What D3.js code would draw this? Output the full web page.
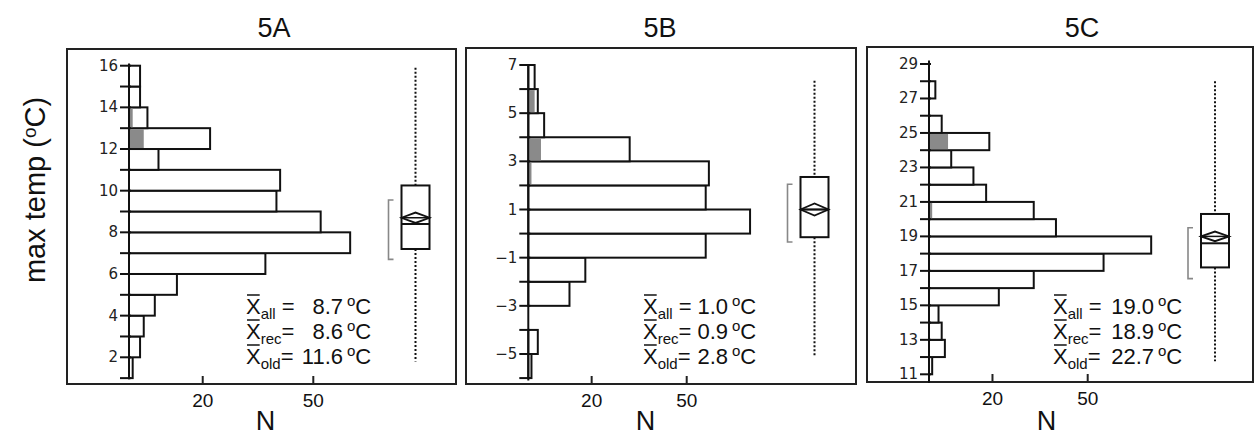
<!DOCTYPE html>
<html>
<head>
<meta charset="utf-8">
<script src="https://cdn.jsdelivr.net/npm/d3@7"></script>
<style>
  body { margin: 0; background: #fff; }
  svg { display: block; }
  text { font-family: "Liberation Sans", Arial, sans-serif; fill: #111; }
  .tick-lab { font-family: "DejaVu Sans", sans-serif; font-size: 15px; fill: #222; }
</style>
</head>
<body>
<div id="chart"></div>
<script>
// ---- data ----
var panelNames = ["5A", "5B", "5C"];

// lower edge of each 1-degree bin
var binsA = [1, 2, 3, 4, 5, 6, 7, 8, 9, 10, 11, 12, 13, 14, 15];
var countsA = [1, 3, 4, 7, 13, 37, 60, 52, 40, 41, 8, 22, 5, 3, 3];
var oldA = [0, 0, 0, 0, 0, 0, 0, 0, 0, 0, 0, 4, 1, 0, 0];

var binsB = [-6, -5, -4, -3, -2, -1, 0, 1, 2, 3, 4, 5, 6];
var countsB = [1, 3, 0, 13, 18, 56, 70, 56, 57, 32, 5, 3, 2];
var oldB = [0, 0, 0, 0, 0, 0, 0, 0, 1, 4, 0, 2, 0];

var binsC = [11, 12, 13, 14, 15, 16, 17, 18, 19, 20, 21, 22, 23, 24, 25, 26, 27];
var countsC = [1, 5, 4, 3, 22, 33, 55, 70, 40, 33, 18, 14, 7, 19, 4, 0, 2];
var oldC = [0, 0, 0, 0, 0, 0, 0, 0, 0, 1, 0, 0, 0, 6, 0, 0, 0];

// box plot summaries: [lowWhisker, q1, median, q3, highWhisker]
var boxA = [1.8, 7.2, 8.4, 10.25, 15.9];
var boxB = [-5.1, -0.15, 1.0, 2.35, 6.35];
var boxC = [11.75, 17.2, 18.6, 20.3, 28.0];
// mean and 95% interval half width (diamond)
var meanA = [8.7, 0.25], meanB = [1.0, 0.25], meanC = [19.0, 0.28];
// shortest half bracket
var shortA = [6.7, 9.55], shortB = [-0.35, 2.05], shortC = [16.55, 19.5];

var yTicksA = [2, 4, 6, 8, 10, 12, 14, 16];
var yTicksB = [-5, -3, -1, 1, 3, 5, 7];
var yTicksC = [11, 13, 15, 17, 19, 21, 23, 25, 27, 29];
var xTicks = [20, 50];

var statSubs = ["all", "rec", "old"];
var statsA = ["8.7", "8.6", "11.6"];
var statsB = ["1.0", "0.9", "2.8"];
var statsC = ["19.0", "18.9", "22.7"];

// ---- layout ----
var W = 1254, H = 435;
var panels = [
  { name: panelNames[0], bins: binsA, counts: countsA, old: oldA, box: boxA, mean: meanA, shortest: shortA,
    ticks: yTicksA, stats: statsA,
    fx: 67, fy: 49, fw: 389, fh: 335, axisX: 129, x50: 313.3,
    yDom: [2, 16], yRng: [357.3, 65.7], axisExt: [0.95, 16.1],
    boxX: 415.5, statX: 246, numEnd: 97, titleX: 274 },
  { name: panelNames[1], bins: binsB, counts: countsB, old: oldB, box: boxB, mean: meanB, shortest: shortB,
    ticks: yTicksB, stats: statsB,
    fx: 466, fy: 48, fw: 390, fh: 336, axisX: 528.3, x50: 686.7,
    yDom: [-5, 7], yRng: [354, 65], axisExt: [-6.1, 7],
    boxX: 814.5, statX: 643, numEnd: 85, titleX: 660 },
  { name: panelNames[2], bins: binsC, counts: countsC, old: oldC, box: boxC, mean: meanC, shortest: shortC,
    ticks: yTicksC, stats: statsC,
    fx: 867, fy: 47, fw: 386, fh: 335, axisX: 929, x50: 1087.7,
    yDom: [11, 29], yRng: [374.3, 64], axisExt: [10.5, 29.2],
    boxX: 1215, statX: 1053, numEnd: 101, titleX: 1082 }
];

var svg = d3.select("#chart").append("svg")
    .attr("width", W)
    .attr("height", H);

// y label
var yl = svg.append("text")
    .attr("transform", "translate(45,190) rotate(-90)")
    .attr("text-anchor", "middle")
    .style("font-size", "29px");
yl.append("tspan").text("max temp (");
yl.append("tspan").attr("dy", -9).style("font-size", "19px").text("o");
yl.append("tspan").attr("dy", 9).text("C)");

panels.forEach(function(p) {
    var x = d3.scaleLinear().domain([0, 50]).range([p.axisX, p.x50]);
    var y = d3.scaleLinear().domain(p.yDom).range(p.yRng);
    var g = svg.append("g");

    // title
    g.append("text")
        .attr("x", p.titleX)
        .attr("y", 37)
        .attr("text-anchor", "middle")
        .style("font-size", "27px")
        .text(p.name);

    // frame
    g.append("rect")
        .attr("x", p.fx).attr("y", p.fy)
        .attr("width", p.fw).attr("height", p.fh)
        .attr("fill", "none")
        .attr("stroke", "#222")
        .attr("stroke-width", 2);

    // x ticks on bottom of frame
    var bottom = p.fy + p.fh;
    g.selectAll(".xt").data(xTicks).enter().append("line")
        .attr("x1", function(d) { return x(d); })
        .attr("x2", function(d) { return x(d); })
        .attr("y1", bottom - 8).attr("y2", bottom)
        .attr("stroke", "#222").attr("stroke-width", 2);
    g.selectAll(".xl").data(xTicks).enter().append("text")
        .attr("x", function(d) { return x(d); })
        .attr("y", bottom + 23)
        .attr("text-anchor", "middle")
        .style("font-size", "19px")
        .text(function(d) { return d; });
    g.append("text")
        .attr("x", x(37))
        .attr("y", 430)
        .attr("text-anchor", "middle")
        .style("font-size", "27px")
        .text("N");

    // histogram bars
    var rows = p.bins.map(function(b, i) { return { lo: b, n: p.counts[i], old: p.old[i] }; });
    g.selectAll(".bar").data(rows.filter(function(d) { return d.n > 0; })).enter().append("rect")
        .attr("x", x(0))
        .attr("y", function(d) { return y(d.lo + 1); })
        .attr("width", function(d) { return x(d.n) - x(0); })
        .attr("height", function(d) { return y(d.lo) - y(d.lo + 1); })
        .attr("fill", "#fff")
        .attr("stroke", "#111")
        .attr("stroke-width", 2);
    g.selectAll(".old").data(rows.filter(function(d) { return d.old > 0; })).enter().append("rect")
        .attr("x", x(0) + 1)
        .attr("y", function(d) { return y(d.lo + 1) + 1; })
        .attr("width", function(d) { return x(d.old) - x(0) - 1; })
        .attr("height", function(d) { return y(d.lo) - y(d.lo + 1) - 2; })
        .attr("fill", "#8a8a8a");

    // y axis
    var allTicks = d3.range(Math.ceil(p.axisExt[0]), Math.floor(p.axisExt[1]) + 1);
    g.append("line")
        .attr("x1", p.axisX).attr("x2", p.axisX)
        .attr("y1", y(p.axisExt[0])).attr("y2", y(p.axisExt[1]))
        .attr("stroke", "#111").attr("stroke-width", 2);
    g.selectAll(".yt").data(allTicks).enter().append("line")
        .attr("x1", p.axisX - 9).attr("x2", p.axisX + 2)
        .attr("y1", function(d) { return y(d); })
        .attr("y2", function(d) { return y(d); })
        .attr("stroke", "#111").attr("stroke-width", 2);
    g.selectAll(".yl").data(p.ticks).enter().append("text")
        .attr("class", "tick-lab")
        .attr("x", p.axisX - 11)
        .attr("y", function(d) { return y(d) + 5; })
        .attr("text-anchor", "end")
        .text(function(d) { return d < 0 ? "\u2212" + Math.abs(d) : d; });

    // box plot
    var b = p.box, bw = 28, cx = p.boxX;
    g.append("line")
        .attr("x1", cx).attr("x2", cx)
        .attr("y1", y(b[4])).attr("y2", y(b[3]))
        .attr("stroke", "#111").attr("stroke-width", 2).attr("stroke-dasharray", "2,2");
    g.append("line")
        .attr("x1", cx).attr("x2", cx)
        .attr("y1", y(b[1])).attr("y2", y(b[0]))
        .attr("stroke", "#111").attr("stroke-width", 2).attr("stroke-dasharray", "2,2");
    g.append("rect")
        .attr("x", cx - bw / 2).attr("y", y(b[3]))
        .attr("width", bw).attr("height", y(b[1]) - y(b[3]))
        .attr("fill", "#fff").attr("stroke", "#111").attr("stroke-width", 2);
    g.append("line")
        .attr("x1", cx - bw / 2).attr("x2", cx + bw / 2)
        .attr("y1", y(b[2])).attr("y2", y(b[2]))
        .attr("stroke", "#111").attr("stroke-width", 2);
    var m = p.mean;
    g.append("path")
        .attr("d", d3.line()([
            [cx - bw / 2, y(m[0])], [cx, y(m[0] + m[1])],
            [cx + bw / 2, y(m[0])], [cx, y(m[0] - m[1])]
        ]) + "Z")
        .attr("fill", "none").attr("stroke", "#111").attr("stroke-width", 1.8);
    g.append("line")
        .attr("x1", cx - bw / 2).attr("x2", cx + bw / 2)
        .attr("y1", y(m[0])).attr("y2", y(m[0]))
        .attr("stroke", "#111").attr("stroke-width", 1.5);

    // shortest half bracket
    var bx = cx - 27, s = p.shortest;
    g.append("path")
        .attr("d", "M" + (bx + 5) + "," + y(s[1]) + "H" + bx + "V" + y(s[0]) + "H" + (bx + 5))
        .attr("fill", "none").attr("stroke", "#888").attr("stroke-width", 1.6);

    // mean labels
    p.stats.forEach(function(v, i) {
        var by = 314 + i * 25;
        var xt = g.append("text")
            .attr("x", p.statX).attr("y", by)
            .style("font-size", "22px")
            .text("X");
        var xw = xt.node().getComputedTextLength();
        g.append("line")
            .attr("x1", p.statX + 1).attr("x2", p.statX + xw - 1)
            .attr("y1", by - 19).attr("y2", by - 19)
            .attr("stroke", "#111").attr("stroke-width", 1.5);
        var st = g.append("text")
            .attr("x", p.statX + xw).attr("y", by)
            .style("white-space", "pre");
        st.append("tspan").attr("dy", 5).style("font-size", "15px").text(statSubs[i]);
        st.append("tspan").attr("dy", -5).style("font-size", "22px").text(i === 0 ? " =" : "=");
        g.append("text")
            .attr("x", p.statX + p.numEnd).attr("y", by)
            .attr("text-anchor", "end")
            .style("font-size", "22px")
            .text(v);
        var dt = g.append("text")
            .attr("x", p.statX + p.numEnd + 4).attr("y", by);
        dt.append("tspan").attr("dy", -8).style("font-size", "15px").text("o");
        dt.append("tspan").attr("dy", 8).style("font-size", "22px").text("C");
    });
});
</script>
</body>
</html>
